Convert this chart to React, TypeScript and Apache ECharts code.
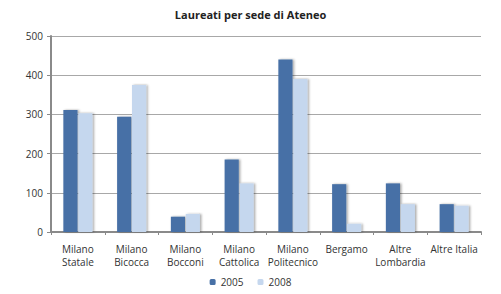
import React, { useEffect, useRef } from "react";
import * as echarts from "echarts";

const categories = [
  "Milano\nStatale",
  "Milano\nBicocca",
  "Milano\nBocconi",
  "Milano\nCattolica",
  "Milano\nPolitecnico",
  "Bergamo",
  "Altre\nLombardia",
  "Altre Italia",
];
const values2005 = [311, 294, 39, 185, 440, 122, 124, 71];
const values2008 = [303, 375, 46, 124, 390, 21, 71, 67];
const yTicks = { min: 0, max: 500, interval: 100 };

const FONT = "'Open Sans', 'Noto Sans', sans-serif";

export default function App() {
  const ref = useRef<HTMLDivElement>(null);
  useEffect(() => {
    if (!ref.current) return;
    const chart = echarts.init(ref.current, null, { renderer: "svg" });
    const barStyleShadow = {
      shadowColor: "rgba(0,0,0,0.35)",
      shadowBlur: 2,
      shadowOffsetX: 1.5,
      shadowOffsetY: 0,
    };
    chart.setOption({
      animation: false,
      backgroundColor: "#ffffff",
      title: {
        text: "Laureati per sede di Ateneo",
        left: "center",
        top: 4,
        textStyle: { fontFamily: FONT, fontSize: 11, fontWeight: "bold", color: "#222" },
      },
      grid: { left: 51, right: 20, top: 36, bottom: 62, containLabel: false },
      legend: {
        bottom: 2,
        left: "center",
        itemWidth: 6,
        itemHeight: 6,
        itemGap: 14,
        textStyle: { fontFamily: FONT, fontSize: 10, color: "#333" },
        data: ["2005", "2008"],
      },
      xAxis: {
        type: "category",
        data: categories,
        axisLine: { lineStyle: { color: "#8a8a8a", width: 2 } },
        axisTick: { show: true, length: 3, lineStyle: { color: "#8a8a8a" } },
        axisLabel: {
          fontFamily: FONT,
          fontSize: 10,
          color: "#333",
          margin: 10,
          lineHeight: 13,
          interval: 0,
        },
      },
      yAxis: {
        type: "value",
        min: yTicks.min,
        max: yTicks.max,
        interval: yTicks.interval,
        axisLine: { show: true, lineStyle: { color: "#8a8a8a", width: 2 } },
        axisTick: { show: true, length: 4, lineStyle: { color: "#8a8a8a" } },
        splitLine: { lineStyle: { color: "#a8a8a8", width: 1 } },
        axisLabel: { fontFamily: FONT, fontSize: 10, color: "#333", margin: 8 },
      },
      series: [
        {
          name: "2005",
          type: "bar",
          data: values2005,
          barGap: "5%",
          barCategoryGap: "46%",
          itemStyle: { color: "#4770a6", ...barStyleShadow },
        },
        {
          name: "2008",
          type: "bar",
          data: values2008,
          itemStyle: { color: "#c5d7ee", ...barStyleShadow },
        },
      ],
    });
    return () => chart.dispose();
  }, []);
  return <div ref={ref} style={{ width: 501, height: 294, margin: -8 }} />;
}
